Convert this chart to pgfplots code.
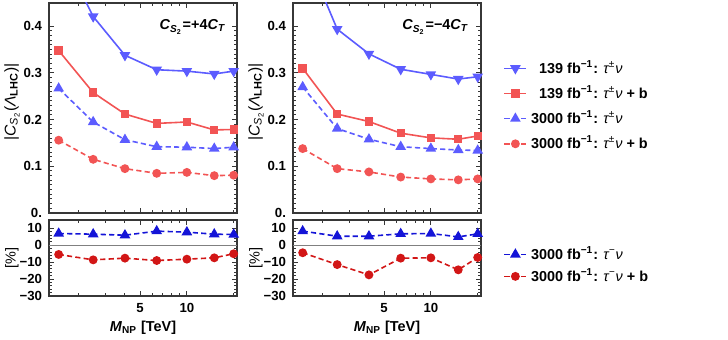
\documentclass[border=0pt]{standalone}
\usepackage{fontspec}
\setmainfont{Liberation Sans}
\usepackage{pgfplots}
\pgfplotsset{compat=1.18}

\definecolor{lblue}{RGB}{92,92,255}
\definecolor{lred}{RGB}{242,84,84}
\definecolor{dblue}{RGB}{20,20,215}
\definecolor{dred}{RGB}{210,22,22}
\definecolor{framec}{RGB}{55,55,55}

\newcommand{\fs}{\fontsize{6.6}{7.8}\selectfont}
\newcommand{\fl}{\fontsize{7.2}{8.6}\selectfont}
\newcommand{\CS}{\textit{C}\textsubscript{\textit{S}\textsubscript{2}}}

\pgfplotsset{
  every axis/.append style={
    scale only axis, width=94pt,
    xmin=1.3, xmax=21,
    xtick={5,10}, minor xtick={2,3,4,6,7,8,9,20},
    tick align=inside, xtick pos=both, ytick pos=both,
    axis line style={framec, line width=0.6pt},
    every tick/.style={framec, line width=0.5pt},
    major tick length=2.6pt, minor tick length=1.5pt,
    tick label style={font=\fs\bfseries},
  },
  every axis y label/.style={at={(axis description cs:0,0.5)}, xshift=-18.5pt, anchor=center, rotate=90, font=\fl},
  every axis x label/.style={at={(axis description cs:0.5,0)}, anchor=center, yshift=-16pt, font=\fl\bfseries},
  legend image code/.code={\draw[mark repeat=2,mark phase=2,#1] plot coordinates {(0pt,0pt) (5.5pt,0pt) (11pt,0pt)};},
}

\begin{document}
\begin{tikzpicture}
\useasboundingbox (0,0) rectangle (364pt,170pt);

% left column: C_S2 = +4 C_T
\begin{axis}[xmode=log, at={(24.5pt,63.5pt)}, anchor=south west, height=105pt,
  ymin=0, ymax=0.45, ytick={0,0.1,0.2,0.3,0.4}, yticklabels={0.,0.1,0.2,0.3,0.4},
  minor y tick num=9, xticklabels={},
  ylabel={|\CS(\textit{Λ}\textsubscript{\textbf{LHC}})|}, ylabel style={font=\fontsize{7.8}{9.2}\selectfont, xshift=3pt}]
\addplot[lblue, line width=0.8pt, mark=triangle*, mark size=2.3pt, mark options={rotate=180}]
  coordinates {(1.5,0.57) (2.5,0.421) (4,0.338) (6.4,0.307) (10,0.304) (15,0.298) (20,0.304)};
\addplot[lred, line width=0.8pt, mark=square*, mark size=1.7pt]
  coordinates {(1.5,0.348) (2.5,0.258) (4,0.212) (6.4,0.192) (10,0.195) (15,0.178) (20,0.179)};
\addplot[lblue, line width=0.8pt, dash pattern=on 2.6pt off 1.6pt, mark=triangle*, mark size=2.3pt, mark options={solid}]
  coordinates {(1.5,0.267) (2.5,0.195) (4,0.157) (6.4,0.142) (10,0.141) (15,0.138) (20,0.141)};
\addplot[lred, line width=0.8pt, dash pattern=on 2.6pt off 1.6pt, mark=*, mark size=1.8pt, mark options={solid}]
  coordinates {(1.5,0.156) (2.5,0.115) (4,0.095) (6.4,0.085) (10,0.087) (15,0.080) (20,0.081)};
\node[anchor=east, font=\fl\bfseries] at (rel axis cs:0.979,0.886) {\CS=+4\textit{C}\textsubscript{\textit{T}}};
\end{axis}

\begin{axis}[xmode=log, at={(24.5pt,22pt)}, anchor=south west, height=38pt,
  ymin=-30, ymax=15, ytick={-30,-20,-10,0,10}, yticklabels={−30,−20,−10,0,10},
  minor y tick num=4, xticklabels={5,10},
  ylabel={[\%]}, xlabel={\textit{M}\textsubscript{NP} [TeV]}]
\addplot[gray, line width=0.4pt, forget plot] coordinates {(1.3,0) (21,0)};
\addplot[dblue, line width=0.8pt, dash pattern=on 2.6pt off 1.6pt, mark=triangle*, mark size=2.3pt, mark options={solid}]
  coordinates {(1.5,7.0) (2.5,6.6) (4,6.0) (6.4,8.4) (10,7.8) (15,6.6) (20,6.4)};
\addplot[dred, line width=0.8pt, dash pattern=on 2.6pt off 1.6pt, mark=*, mark size=1.8pt, mark options={solid}]
  coordinates {(1.5,-5.4) (2.5,-8.6) (4,-7.6) (6.4,-9.0) (10,-8.2) (15,-7.4) (20,-5.0)};
\end{axis}

% right column: C_S2 = -4 C_T
\begin{axis}[xmode=log, at={(146.5pt,63.5pt)}, anchor=south west, height=105pt,
  ymin=0, ymax=0.45, ytick={0,0.1,0.2,0.3,0.4}, yticklabels={0.,0.1,0.2,0.3,0.4},
  minor y tick num=9, xticklabels={},
  ylabel={|\CS(\textit{Λ}\textsubscript{\textbf{LHC}})|}, ylabel style={font=\fontsize{7.8}{9.2}\selectfont, xshift=3pt},
  legend style={at={(axis description cs:1.118,0.748)}, anchor=north west, draw=none, fill=none,
    font=\fl\bfseries, row sep=0.6pt, inner sep=0pt}, legend cell align=left,
  every even column/.style={column sep=6pt}]
\addplot[lblue, line width=0.8pt, mark=triangle*, mark size=2.3pt, mark options={rotate=180}]
  coordinates {(1.5,0.57) (2.5,0.394) (4,0.341) (6.4,0.308) (10,0.297) (15,0.287) (20,0.292)};
\addplot[lred, line width=0.8pt, mark=square*, mark size=1.7pt]
  coordinates {(1.5,0.310) (2.5,0.212) (4,0.196) (6.4,0.171) (10,0.161) (15,0.158) (20,0.165)};
\addplot[lblue, line width=0.8pt, dash pattern=on 2.6pt off 1.6pt, mark=triangle*, mark size=2.3pt, mark options={solid}]
  coordinates {(1.5,0.270) (2.5,0.181) (4,0.158) (6.4,0.142) (10,0.138) (15,0.135) (20,0.134)};
\addplot[lred, line width=0.8pt, dash pattern=on 2.6pt off 1.6pt, mark=*, mark size=1.8pt, mark options={solid}]
  coordinates {(1.5,0.138) (2.5,0.095) (4,0.088) (6.4,0.077) (10,0.073) (15,0.071) (20,0.073)};
\legend{\hphantom{0}139 fb\textsuperscript{−1}: {\mdseries\itshape τ\textsuperscript{±}ν},
        \hphantom{0}139 fb\textsuperscript{−1}: {\mdseries\itshape τ\textsuperscript{±}ν} + b,
        3000 fb\textsuperscript{−1}: {\mdseries\itshape τ\textsuperscript{±}ν},
        3000 fb\textsuperscript{−1}: {\mdseries\itshape τ\textsuperscript{±}ν} + b}
\node[anchor=east, font=\fl\bfseries] at (rel axis cs:0.973,0.886) {\CS=−4\textit{C}\textsubscript{\textit{T}}};
\end{axis}

\begin{axis}[xmode=log, at={(146.5pt,22pt)}, anchor=south west, height=38pt,
  ymin=-30, ymax=15, ytick={-30,-20,-10,0,10}, yticklabels={−30,−20,−10,0,10},
  minor y tick num=4, xticklabels={5,10},
  ylabel={[\%]}, xlabel={\textit{M}\textsubscript{NP} [TeV]},
  legend style={at={(axis description cs:1.118,0.71)}, anchor=north west, draw=none, fill=none,
    font=\fl\bfseries, row sep=-1pt, inner sep=0pt}, legend cell align=left,
  every even column/.style={column sep=6pt}]
\addplot[gray, line width=0.4pt, forget plot] coordinates {(1.3,0) (21,0)};
\addplot[dblue, line width=0.8pt, dash pattern=on 2.6pt off 1.6pt, mark=triangle*, mark size=2.3pt, mark options={solid}]
  coordinates {(1.5,8.4) (2.5,5.4) (4,5.4) (6.4,6.8) (10,7.0) (15,5.0) (20,6.8)};
\addplot[dred, line width=0.8pt, dash pattern=on 2.6pt off 1.6pt, mark=*, mark size=1.8pt, mark options={solid}]
  coordinates {(1.5,-4.4) (2.5,-11.4) (4,-17.5) (6.4,-7.6) (10,-7.4) (15,-14.5) (20,-7.2)};
\legend{3000 fb\textsuperscript{−1}: {\mdseries\itshape τ\textsuperscript{−}ν},
        3000 fb\textsuperscript{−1}: {\mdseries\itshape τ\textsuperscript{−}ν} + b}
\end{axis}
\end{tikzpicture}
\end{document}
